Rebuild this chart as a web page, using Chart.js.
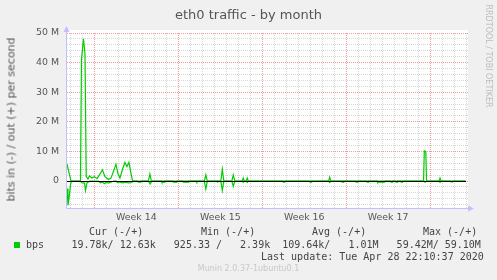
<!DOCTYPE html>
<html>
<head>
<meta charset="utf-8">
<title>eth0 traffic - by month</title>
<script src="https://cdn.jsdelivr.net/npm/chart.js@4.4.1/dist/chart.umd.min.js"></script>
<style>
  body { margin: 0; background: #f0f0f0; }
  #wrap { position: relative; width: 497px; height: 280px; overflow: hidden; }
  #chart { position: absolute; left: 0; top: 0; }
  .txt { position: absolute; white-space: pre; color: #555; font-family: "DejaVu Sans"; line-height: 1; }
  .mono { font-family: "DejaVu Sans Mono"; font-size: 10px; color: #444; }
</style>
</head>
<body>
<div id="wrap">
  <canvas id="chart" width="497" height="280"></canvas>
  <div class="txt" style="left:0;width:497px;text-align:center;top:8px;font-size:13px">eth0 traffic - by month</div>
  <div class="txt" style="left:-89.5px;width:200px;text-align:center;top:114px;font-size:11px;transform:rotate(-90deg)">bits in (-) / out (+) per second</div>
  <div class="txt" style="left:427.5px;width:120px;text-align:center;top:52px;font-size:8px;color:#bdbdbd;transform:rotate(90deg)">RRDTOOL / TOBI OETIKER</div>

  <div class="txt mono" style="left:89px;top:227px">Cur (-/+)</div>
  <div class="txt mono" style="left:201px;top:227px">Min (-/+)</div>
  <div class="txt mono" style="left:312px;top:227px">Avg (-/+)</div>
  <div class="txt mono" style="left:423px;top:227px">Max (-/+)</div>

  <div style="position:absolute;left:14px;top:242px;width:6px;height:6px;background:#00cc00"></div>
  <div class="txt mono" style="left:26px;top:240px">bps</div>
  <div class="txt mono" style="left:71.5px;top:240px">19.78k/ 12.63k   925.33 /   2.39k  109.64k/   1.01M   59.42M/ 59.10M</div>
  <div class="txt mono" style="left:261px;top:252px">Last update: Tue Apr 28 22:10:37 2020</div>

  <div class="txt" style="left:0;width:497px;text-align:center;top:265px;font-size:8px;color:#c8c8c8">Munin 2.0.37-1ubuntu0.1</div>
</div>

<script>
// Time axis: hours since Mon 30 Mar 2020 00:00 (start of Week 14)
const xMin = -55;
const xMax = 748;
const yMin = -9.1;
const yMax = 50;

const weekMidHours = [84, 252, 420, 588];
const weekLabels = ["Week 14", "Week 15", "Week 16", "Week 17"];
const yTickValues = [0, 10, 20, 30, 40, 50];

// out (+), Mbit/s
const outHours = [
  -55, -52, -49, -47,
  -28, -26, -22, -19, -16.5,
  -13, -10, -5, 0, 5, 10, 16, 21, 28, 33, 38, 43, 47, 51, 57, 61, 65, 69, 73, 76, 78,
  108, 111, 114,
  220, 223, 226,
  253, 256, 259,
  275, 278, 281,
  296, 298, 300,
  304, 306, 308,
  469, 471, 473,
  659, 660.5, 663.5, 665,
  690, 692, 694,
  743
];
const outMbit = [
  5.8, 3.5, 1.4, 0,
  0, 41, 48, 43, 1.5,
  0.7, 1.8, 1.0, 1.5, 0.8, 2.1, 3.8, 1.5, 0.5, 1.0, 3.2, 5.7, 2.5, 1.0, 4.4, 6.3, 4.9, 6.3, 2.7, 0.3, 0,
  0, 2.4, 0,
  0, 2.1, 0,
  0, 4.0, 0,
  0, 2.1, 0,
  0, 1.0, 0,
  0, 1.0, 0,
  0, 1.3, 0,
  0, 10.2, 10.0, 0,
  0, 1.0, 0,
  0
];

// in (-), Mbit/s, drawn below zero
const inHours = [
  -55, -53, -50, -48, -46,
  -28, -26, -20, -18, -15, -12, -9,
  8, 12, 16, 20, 24, 28, 34, 38,
  44, 46, 50, 56, 62, 68, 74, 78,
  86, 88, 93, 95,
  108, 111.5, 114, 116,
  134, 135, 140, 141,
  157, 158, 165, 166,
  177, 178, 188, 189,
  204, 205, 206,
  220, 223, 226,
  245, 246, 247,
  253, 256, 259,
  275, 278, 281,
  296, 298, 300,
  304, 306, 308,
  377, 378, 381, 382,
  431, 432, 434, 435,
  469, 471, 473,
  495, 496, 498, 499,
  523, 524, 526, 527,
  545, 546, 548, 549,
  566, 567, 581, 582,
  593, 594, 596, 597,
  603, 604, 606, 607,
  613, 614, 616, 617,
  660, 662, 664,
  690, 692, 694,
  713, 714, 716, 717,
  743
];
const inMbit = [
  -2.5, -8.2, -4.5, -1.2, 0,
  0, -0.5, -0.7, -3.2, -0.6, -0.3, 0,
  0, -0.6, -0.3, -0.9, -0.4, -0.7, -0.3, 0,
  0, -0.5, -0.3, -0.6, -0.4, -0.6, -0.5, 0,
  0, -0.4, -0.4, 0,
  0, -1.0, -0.3, 0,
  0, -0.4, -0.4, 0,
  0, -0.4, -0.4, 0,
  0, -0.4, -0.4, 0,
  0, -0.3, 0,
  0, -2.7, 0,
  0, -0.3, 0,
  0, -3.2, 0,
  0, -1.8, 0,
  0, -0.4, 0,
  0, -0.4, 0,
  0, -0.4, -0.4, 0,
  0, -0.4, -0.4, 0,
  0, -0.5, 0,
  0, -0.4, -0.4, 0,
  0, -0.4, -0.4, 0,
  0, -0.4, -0.4, 0,
  0, -0.4, -0.4, 0,
  0, -0.4, -0.4, 0,
  0, -0.4, -0.4, 0,
  0, -0.4, -0.4, 0,
  0, -0.4, 0,
  0, -0.4, 0,
  0, -0.3, -0.3, 0,
  0
];

const GREEN = "#00cc00";
const MINOR = "#d6d6d6";
const MAJOR = "#f09a9a";
const AXIS = "#c0c0ff";
const HOURS_PER_WEEK = 168;

Chart.defaults.font.family = "DejaVu Sans";
Chart.defaults.font.size = 9.4;
Chart.defaults.color = "#555";

// white plot area, black zero rule, blue axes with arrows
const plotFrame = {
  id: "plotFrame",
  beforeDraw(chart) {
    const { ctx, chartArea: a } = chart;
    ctx.save();
    ctx.fillStyle = "#fff";
    ctx.fillRect(a.left, a.top - 3, a.right - a.left, a.bottom - a.top + 3);
    ctx.restore();
  },
  afterDatasetsDraw(chart) {
    const { ctx, chartArea: a, scales } = chart;
    const y0 = Math.round(scales.y.getPixelForValue(0)) + 0.5;
    ctx.save();
    ctx.setLineDash([]);
    ctx.lineWidth = 1;
    ctx.strokeStyle = "#000";
    ctx.beginPath();
    ctx.moveTo(a.left, y0);
    ctx.lineTo(a.right - 2, y0);
    ctx.stroke();

    const lx = a.left - 0.5;
    const by = a.bottom + 0.5;
    ctx.strokeStyle = AXIS;
    ctx.beginPath();
    ctx.moveTo(lx, a.top - 2);
    ctx.lineTo(lx, by);
    ctx.lineTo(a.right + 2, by);
    ctx.stroke();
    ctx.fillStyle = AXIS;
    ctx.beginPath();
    ctx.moveTo(lx, a.top - 7);
    ctx.lineTo(lx - 3, a.top - 1);
    ctx.lineTo(lx + 3, a.top - 1);
    ctx.closePath();
    ctx.fill();
    ctx.beginPath();
    ctx.moveTo(a.right + 6, by);
    ctx.lineTo(a.right, by - 3);
    ctx.lineTo(a.right, by + 3);
    ctx.closePath();
    ctx.fill();
    ctx.restore();
  }
};

const toPoints = (xs, ys) => xs.map((h, i) => ({ x: h, y: ys[i] }));
const isMultiple = (v, step) => Math.abs(v / step - Math.round(v / step)) < 1e-6;

new Chart(document.getElementById("chart"), {
  type: "line",
  data: {
    datasets: [
      {
        label: "out",
        data: toPoints(outHours, outMbit),
        borderColor: GREEN,
        borderWidth: 1.2,
        pointRadius: 0,
        tension: 0,
        fill: false
      },
      {
        label: "in",
        data: toPoints(inHours, inMbit),
        borderColor: GREEN,
        borderWidth: 1.2,
        pointRadius: 0,
        tension: 0,
        fill: false
      }
    ]
  },
  options: {
    responsive: false,
    devicePixelRatio: 1,
    animation: false,
    layout: { padding: { top: 33, right: 29, left: 0, bottom: 0 } },
    plugins: { legend: { display: false }, tooltip: { enabled: false } },
    scales: {
      // day grid, every 7th line (week start) red
      xGrid: {
        type: "linear",
        position: "bottom",
        min: xMin,
        max: xMax,
        afterFit: (axis) => { axis.height = 0; },
        grid: {
          drawTicks: false,
          color: (c) => (c.tick && isMultiple(c.tick.value, HOURS_PER_WEEK) ? MAJOR : MINOR)
        },
        border: { display: false, dash: [1, 1] },
        ticks: { display: false, stepSize: 24, maxTicksLimit: 100, includeBounds: false }
      },
      // 2 M grid, every 10 M red
      yGrid: {
        type: "linear",
        position: "left",
        min: yMin,
        max: yMax,
        afterFit: (axis) => { axis.width = 0; },
        grid: {
          drawTicks: false,
          color: (c) => (c.tick && isMultiple(c.tick.value, 10) ? MAJOR : MINOR)
        },
        border: { display: false, dash: [1, 1] },
        ticks: { display: false, stepSize: 2, maxTicksLimit: 100, includeBounds: false }
      },
      x: {
        type: "linear",
        position: "bottom",
        min: xMin,
        max: xMax,
        afterBuildTicks: (axis) => {
          axis.ticks = weekMidHours.map((v) => ({ value: v }));
        },
        afterFit: (axis) => { axis.height = 72; },
        grid: { display: false, drawTicks: false },
        border: { display: false },
        ticks: {
          padding: 4,
          autoSkip: false,
          maxRotation: 0,
          callback: (v, i) => weekLabels[i]
        }
      },
      y: {
        type: "linear",
        position: "left",
        min: yMin,
        max: yMax,
        afterBuildTicks: (axis) => {
          axis.ticks = yTickValues.map((v) => ({ value: v }));
        },
        afterFit: (axis) => { axis.width = 67; },
        grid: { display: false, drawTicks: false },
        border: { display: false },
        ticks: {
          padding: 8,
          callback: (v) => (v === 0 ? "0" : v + " M")
        }
      }
    }
  },
  plugins: [plotFrame]
});
</script>
</body>
</html>
